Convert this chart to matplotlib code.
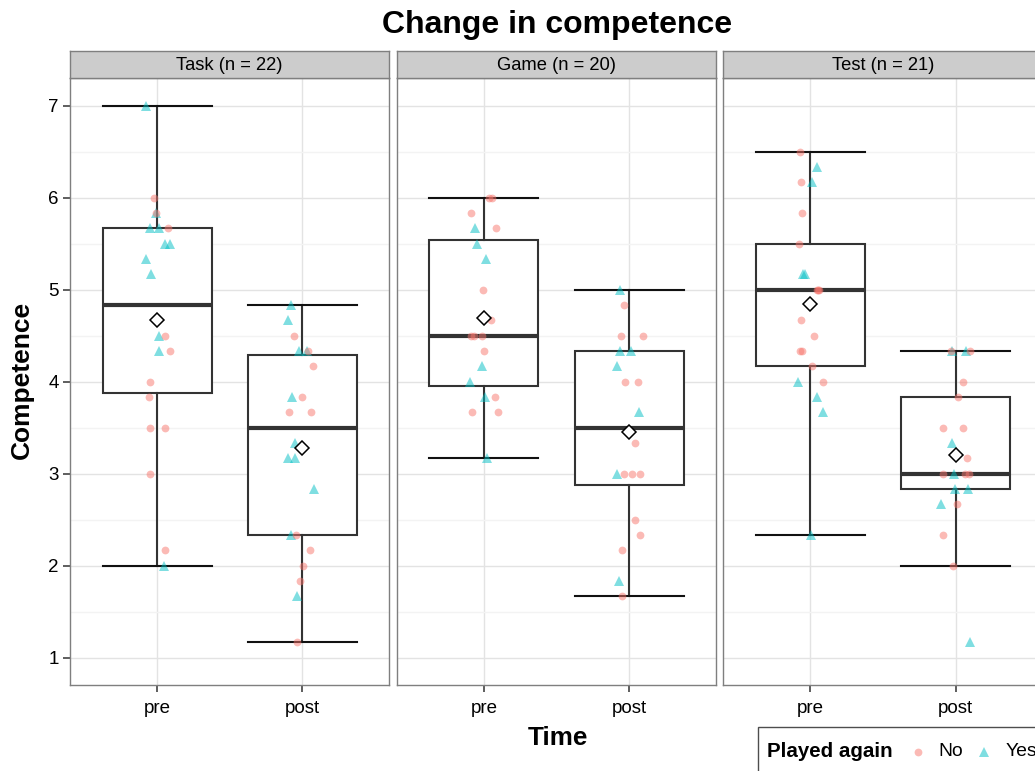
import numpy as np
import matplotlib
matplotlib.use('Agg')
from matplotlib import pyplot as plt
from matplotlib.patches import Rectangle
from matplotlib.lines import Line2D
from matplotlib.ticker import MultipleLocator

plt.rcParams['font.family'] = ['Liberation Sans', 'DejaVu Sans']

# --- data ---
facets = ['Task (n = 22)', 'Game (n = 20)', 'Test (n = 21)']
times = ['pre', 'post']

task_pre = [7.0, 6.0, 5.833, 5.833, 5.667, 5.667, 5.667, 5.5, 5.5, 5.333, 5.167,
            4.5, 4.5, 4.333, 4.333, 4.0, 3.833, 3.5, 3.5, 3.0, 2.167, 2.0]
task_pre_grp = ['Yes', 'No', 'Yes', 'No', 'Yes', 'Yes', 'No', 'Yes', 'Yes', 'Yes', 'Yes',
                'Yes', 'No', 'Yes', 'No', 'No', 'No', 'No', 'No', 'No', 'No', 'Yes']
task_pre_jit = [-0.074, -0.023, -0.007, -0.005, -0.051, 0.011, 0.076, 0.052, 0.091, -0.080, -0.039,
                0.011, 0.057, 0.011, 0.089, -0.051, -0.053, -0.046, 0.052, -0.048, 0.055, 0.045]

task_post = [4.833, 4.667, 4.5, 4.333, 4.333, 4.333, 4.167, 3.833, 3.833, 3.667, 3.667,
             3.333, 3.167, 3.167, 2.833, 2.333, 2.333, 2.167, 2.0, 1.833, 1.667, 1.167]
task_post_grp = ['Yes', 'Yes', 'No', 'Yes', 'Yes', 'No', 'No', 'Yes', 'No', 'No', 'No',
                 'Yes', 'Yes', 'Yes', 'Yes', 'Yes', 'No', 'No', 'No', 'No', 'Yes', 'No']
task_post_jit = [-0.078, -0.100, -0.059, -0.021, 0.034, 0.041, 0.071, -0.073, -0.004, -0.089, 0.058,
                 -0.048, -0.096, -0.048, 0.082, -0.080, -0.043, 0.051, 0.005, -0.018, -0.036, -0.038]

game_pre = [6.0, 6.0, 5.833, 5.667, 5.667, 5.5, 5.333, 5.0, 4.667, 4.5,
            4.5, 4.5, 4.333, 4.167, 4.0, 3.833, 3.833, 3.667, 3.667, 3.167]
game_pre_grp = ['No', 'No', 'No', 'Yes', 'No', 'Yes', 'Yes', 'No', 'No', 'No',
                'No', 'No', 'No', 'Yes', 'Yes', 'Yes', 'No', 'No', 'No', 'Yes']
game_pre_jit = [0.038, 0.055, -0.089, -0.064, 0.082, -0.048, 0.016, -0.007, 0.052, -0.087,
                -0.071, -0.010, 0.004, -0.014, -0.094, 0.009, 0.077, -0.082, 0.100, 0.025]

game_post = [5.0, 4.833, 4.5, 4.5, 4.333, 4.333, 4.167, 4.0, 4.0, 3.667,
             3.333, 3.0, 3.0, 3.0, 3.0, 2.5, 2.333, 2.167, 1.833, 1.667]
game_post_grp = ['Yes', 'No', 'No', 'No', 'Yes', 'Yes', 'Yes', 'No', 'No', 'Yes',
                 'No', 'Yes', 'No', 'No', 'No', 'No', 'No', 'No', 'Yes', 'No']
game_post_jit = [-0.059, -0.036, -0.057, 0.096, -0.059, 0.016, -0.082, -0.025, 0.062, 0.068,
                 0.039, -0.086, -0.032, 0.021, 0.075, 0.044, 0.078, -0.050, -0.071, -0.048]

test_pre = [6.5, 6.333, 6.167, 6.167, 5.833, 5.5, 5.167, 5.167, 5.0, 5.0, 5.0,
            4.667, 4.5, 4.333, 4.333, 4.167, 4.0, 4.0, 3.833, 3.667, 2.333]
test_pre_grp = ['No', 'Yes', 'No', 'Yes', 'No', 'No', 'Yes', 'Yes', 'No', 'No', 'No',
                'No', 'No', 'No', 'No', 'No', 'Yes', 'No', 'Yes', 'Yes', 'Yes']
test_pre_jit = [-0.075, 0.044, -0.064, 0.014, -0.059, -0.079, -0.052, -0.036, 0.048, 0.062, 0.055,
                -0.064, 0.023, -0.075, -0.059, 0.014, -0.084, 0.087, 0.044, 0.085, 0.003]

test_post = [4.333, 4.333, 4.333, 4.333, 4.0, 3.833, 3.5, 3.5, 3.333, 3.167, 3.0,
             3.0, 3.0, 3.0, 2.833, 2.833, 2.667, 2.667, 2.333, 2.0, 1.167]
test_post_grp = ['Yes', 'Yes', 'No', 'No', 'No', 'No', 'No', 'No', 'Yes', 'No', 'No',
                 'Yes', 'No', 'No', 'Yes', 'Yes', 'Yes', 'No', 'No', 'No', 'Yes']
test_post_jit = [-0.023, 0.073, 0.096, -0.029, 0.053, 0.014, -0.089, 0.053, -0.027, 0.075, -0.089,
                 -0.009, 0.062, 0.091, -0.007, 0.087, -0.098, 0.009, -0.089, -0.021, 0.098]

panels = [
    [(task_pre, task_pre_grp, task_pre_jit), (task_post, task_post_grp, task_post_jit)],
    [(game_pre, game_pre_grp, game_pre_jit), (game_post, game_post_grp, game_post_jit)],
    [(test_pre, test_pre_grp, test_pre_jit), (test_post, test_post_grp, test_post_jit)],
]

col = {'No': '#F8766D', 'Yes': '#00BFC4'}
mk = {'No': 'o', 'Yes': '^'}
ms = {'No': 5.6, 'Yes': 6.8}

W, H = 1035, 771
fig = plt.figure(figsize=(W / 100, H / 100), dpi=100)

lefts = [70, 396.7, 723.3]
pw = 319.5
ptop, pbot = 78.3, 685
stop = 50.7

for i, (left, pdata) in enumerate(zip(lefts, panels)):
    ax = fig.add_axes([left / W, 1 - pbot / H, pw / W, (pbot - ptop) / H])
    ax.set_xlim(0.4, 2.6)
    ax.set_ylim(0.703, 7.298)

    vals = [d[0] for d in pdata]
    ax.boxplot(vals, positions=[1, 2], widths=0.75, whis=1.5, showfliers=False,
               showmeans=True, patch_artist=True, capwidths=0.75,
               boxprops=dict(facecolor='white', edgecolor='#333333', linewidth=1.5),
               medianprops=dict(color='#333333', linewidth=3.0),
               whiskerprops=dict(color='#333333', linewidth=1.5),
               capprops=dict(color='#111111', linewidth=1.5),
               meanprops=dict(marker='D', markerfacecolor='white', markeredgecolor='black',
                              markersize=7.5, markeredgewidth=1.1, zorder=5))

    for k, (v, g, j) in enumerate(pdata):
        for val, grp, jit in zip(v, g, j):
            ax.plot(k + 1 + jit, val, marker=mk[grp], color=col[grp], alpha=0.5,
                    markersize=ms[grp], markeredgewidth=0, linestyle='none', zorder=4)

    ax.set_xticks([1, 2])
    ax.set_xticklabels(times, fontsize=13.5)
    ax.set_yticks(range(1, 8))
    ax.yaxis.set_minor_locator(MultipleLocator(0.5))
    ax.grid(True, which='major', color='#e3e3e3', linewidth=1.0)
    ax.grid(True, which='minor', axis='y', color='#f3f3f3', linewidth=1.0)
    ax.set_axisbelow(True)
    ax.tick_params(axis='both', which='major', length=5, width=1.1, color='#333333',
                   labelsize=13.5, pad=3)
    ax.tick_params(axis='x', which='major', pad=6)
    ax.tick_params(axis='both', which='minor', length=0)
    if i == 0:
        ax.set_yticklabels([str(t) for t in range(1, 8)])
    else:
        ax.tick_params(axis='y', which='both', left=False, labelleft=False)
    for s in ax.spines.values():
        s.set_color('#7f7f7f')
        s.set_linewidth(1.0)

    sax = fig.add_axes([left / W, 1 - ptop / H, pw / W, (ptop - stop) / H])
    sax.set_facecolor('#cccccc')
    sax.set_xticks([])
    sax.set_yticks([])
    for s in sax.spines.values():
        s.set_color('#7f7f7f')
        s.set_linewidth(1.0)
    sax.text(0.5, 0.45, facets[i], ha='center', va='center', fontsize=13.2,
             transform=sax.transAxes)

fig.text(557.5 / W, 1 - 25 / H, 'Change in competence', ha='center', va='center',
         fontsize=23, fontweight='bold')
fig.text(557.5 / W, 1 - 738 / H, 'Time', ha='center', va='center',
         fontsize=18.8, fontweight='bold')
fig.text(22 / W, 1 - 380 / H, 'Competence', ha='center', va='center', rotation=90,
         fontsize=19, fontweight='bold')

# legend (runs off the right/bottom edge as in the reference)
fig.add_artist(Rectangle((757.7 / W, -0.05), 0.5, 1 - 726.7 / H + 0.05,
                         transform=fig.transFigure, facecolor='white',
                         edgecolor='#4d4d4d', linewidth=1.0))
ly = 1 - 751.5 / H
fig.text(766.7 / W, ly, 'Played again', ha='left', va='center', fontsize=14.8,
         fontweight='bold')
fig.add_artist(Line2D([918.3 / W], [ly], transform=fig.transFigure, marker='o',
                      color=col['No'], alpha=0.5, markersize=ms['No'], markeredgewidth=0))
fig.text(938.7 / W, ly, 'No', ha='left', va='center', fontsize=13.9)
fig.add_artist(Line2D([984.3 / W], [ly], transform=fig.transFigure, marker='^',
                      color=col['Yes'], alpha=0.5, markersize=ms['Yes'], markeredgewidth=0))
fig.text(1006 / W, ly, 'Yes', ha='left', va='center', fontsize=13.9)

fig.savefig('out.png', dpi=100)
